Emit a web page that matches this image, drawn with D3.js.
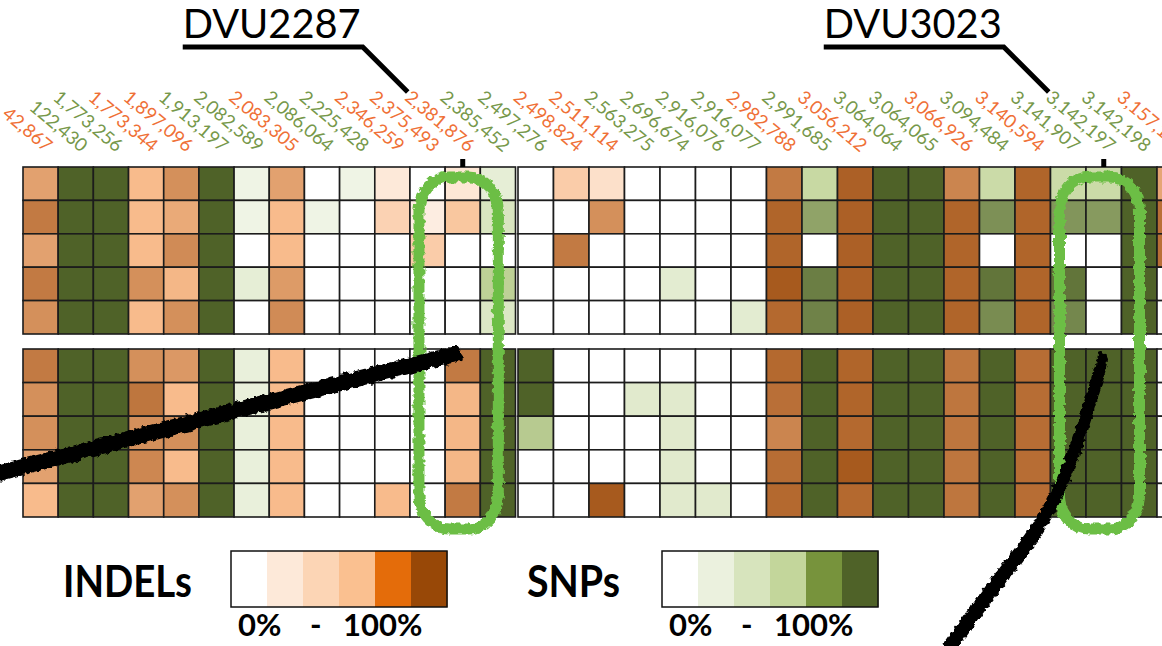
<!DOCTYPE html>
<html>
<head>
<meta charset="utf-8">
<script src="https://cdn.jsdelivr.net/npm/d3@7"></script>
<style>
  body { margin: 0; background: #fff; }
  svg { display: block; }
</style>
</head>
<body>
<svg id="chart" width="1162" height="646"></svg>
<script>
// Genome positions of the variants (column labels)
const positions = ["42,867", "122,430", "1,773,256", "1,773,344", "1,897,096", "1,913,197", "2,082,589",
  "2,083,305", "2,086,064", "2,225,428", "2,346,259", "2,375,493", "2,381,876", "2,385,452",
  "2,497,276", "2,498,824", "2,511,114", "2,563,275", "2,696,674", "2,916,076", "2,916,077",
  "2,982,788", "2,991,685", "3,056,212", "3,064,064", "3,064,065", "3,066,926", "3,094,484",
  "3,140,594", "3,141,907", "3,142,197", "3,142,198", "3,157,154"];

// Variant type of each column: I = INDEL, S = SNP
const types = ["I", "S", "S", "I", "I", "S", "S", "I", "S", "S", "I", "I", "I", "S",
  "S", "I", "I", "S", "S", "S", "S", "I", "S", "I", "S", "S", "I", "S", "I", "S", "S", "S", "I"];

// Number of columns in the first panel
const leftCount = 14;

// Frequency (%) of each variant, upper group of five lines
const topRows = [
  [62, 100, 100, 50, 70, 100, 8, 62, 0, 8, 10, 0, 12, 15, 0, 35, 18, 0, 0, 0, 0, 80, 45, 92, 100, 100, 75, 42, 90, 42, 42, 100, 60],
  [80, 100, 100, 50, 58, 100, 8, 50, 8, 0, 30, 8, 40, 28, 0, 0, 70, 0, 0, 0, 0, 90, 72, 92, 100, 100, 90, 80, 90, 78, 76, 100, 85],
  [62, 100, 100, 50, 72, 100, 0, 50, 0, 0, 0, 35, 0, 0, 0, 80, 0, 0, 0, 0, 0, 90, 0, 92, 100, 100, 90, 0, 90, 0, 0, 100, 85],
  [80, 100, 100, 70, 52, 100, 15, 65, 0, 0, 0, 0, 0, 52, 0, 0, 0, 0, 18, 0, 0, 95, 88, 92, 100, 100, 90, 92, 90, 92, 0, 100, 0],
  [70, 100, 100, 50, 70, 100, 0, 72, 0, 0, 0, 0, 0, 25, 0, 0, 0, 0, 0, 0, 18, 88, 86, 92, 100, 100, 90, 82, 90, 84, 0, 100, 0]
];

// Frequency (%) of each variant, lower group of five lines
const bottomRows = [
  [80, 100, 100, 70, 66, 100, 12, 50, 0, 0, 0, 0, 80, 100, 100, 0, 0, 0, 0, 0, 0, 88, 100, 90, 100, 100, 82, 100, 86, 100, 100, 100, 0],
  [70, 100, 100, 82, 50, 100, 12, 50, 0, 0, 0, 0, 52, 100, 100, 0, 0, 20, 20, 0, 0, 85, 100, 90, 100, 100, 82, 100, 86, 100, 100, 100, 0],
  [70, 100, 100, 70, 70, 100, 12, 50, 0, 0, 0, 0, 52, 100, 55, 0, 0, 0, 20, 0, 0, 75, 100, 88, 100, 100, 82, 100, 86, 100, 100, 100, 0],
  [62, 100, 100, 74, 50, 100, 12, 50, 0, 0, 0, 0, 52, 100, 0, 0, 0, 0, 20, 0, 0, 86, 100, 95, 100, 100, 82, 100, 86, 100, 100, 100, 0],
  [50, 100, 100, 62, 70, 100, 12, 50, 0, 0, 50, 0, 80, 100, 0, 0, 95, 0, 20, 20, 0, 88, 100, 88, 100, 100, 82, 100, 86, 100, 100, 100, 0]
];

// Highlighted genes and the column they point at
const genes = [
  { name: "DVU2287", column: "2,381,876", circled: ["2,375,493", "2,381,876"] },
  { name: "DVU3023", column: "3,142,197", circled: ["3,141,907", "3,142,197"] }
];

// Legend steps
const legendSteps = [0, 1, 2, 3, 4, 5];

const svg = d3.select("#chart");
const font = "Lato, 'Open Sans', sans-serif";

// colour scales, white to brown for INDELs and white to olive for SNPs
const indelColor = d3.scaleLinear().domain([0, 10, 50, 100])
  .range(["#ffffff", "#fde9d9", "#f8bb8c", "#9e4f12"]);
const snpColor = d3.scaleLinear().domain([0, 10, 50, 100])
  .range(["#ffffff", "#ebf1de", "#c3d69b", "#4f6228"]);
const cellColor = (t, v) => t === "I" ? indelColor(v) : snpColor(v);

// two panels of columns
const xLeft = d3.scaleBand().domain(positions.slice(0, leftCount)).range([23, 515.5]);
const xRight = d3.scaleBand().domain(positions.slice(leftCount))
  .range([518, 518 + 35.5 * (positions.length - leftCount)]);
const x = p => positions.indexOf(p) < leftCount ? xLeft(p) : xRight(p);
const bw = p => positions.indexOf(p) < leftCount ? xLeft.bandwidth() : xRight.bandwidth();

const yTop = d3.scaleBand().domain(d3.range(topRows.length)).range([167, 334]);
const yBottom = d3.scaleBand().domain(d3.range(bottomRows.length)).range([349, 517]);

// rough edge filter for the hand drawn marks
const defs = svg.append("defs");
const rough = defs.append("filter").attr("id", "rough")
  .attr("x", "-10%").attr("y", "-10%").attr("width", "120%").attr("height", "120%");
rough.append("feTurbulence").attr("type", "fractalNoise").attr("baseFrequency", 0.2)
  .attr("numOctaves", 2).attr("seed", 3).attr("result", "noise");
rough.append("feDisplacementMap").attr("in", "SourceGraphic").attr("in2", "noise")
  .attr("scale", 6).attr("xChannelSelector", "R").attr("yChannelSelector", "G");

// heatmap cells
function drawBlock(rows, y) {
  const cells = rows.flatMap((row, r) => row.map((v, c) => ({ r, c, v, p: positions[c], t: types[c] })));
  svg.append("g").selectAll("rect")
    .data(cells)
    .join("rect")
    .attr("x", d => x(d.p))
    .attr("y", d => y(d.r))
    .attr("width", d => bw(d.p))
    .attr("height", y.bandwidth())
    .attr("fill", d => cellColor(d.t, d.v))
    .attr("stroke", "#1c1c1c")
    .attr("stroke-width", 1.6);
}
drawBlock(topRows, yTop);
drawBlock(bottomRows, yBottom);

// rotated column labels
svg.append("g").selectAll("text")
  .data(positions)
  .join("text")
  .attr("transform", p => `translate(${x(p) + bw(p) / 2 + 5},153) rotate(40)`)
  .attr("text-anchor", "end")
  .attr("font-family", font)
  .attr("font-size", 18.5)
  .attr("fill", (p, i) => types[i] === "I" ? "#ef7036" : "#76984a")
  .text(p => p);

// gene call-outs
genes.forEach(g => {
  const cx = x(g.column) + bw(g.column) / 2;
  const ann = svg.append("g");
  ann.append("text")
    .attr("x", cx - 280).attr("y", 38)
    .attr("font-family", font).attr("font-size", 40)
    .attr("textLength", 178).attr("lengthAdjust", "spacingAndGlyphs")
    .text(g.name);
  ann.append("path")
    .attr("d", `M${cx - 280},47 L${cx - 100},47 L${cx - 55},92`)
    .attr("fill", "none").attr("stroke", "#000").attr("stroke-width", 5);
  ann.append("rect")
    .attr("x", cx - 2.5).attr("y", 159).attr("width", 5).attr("height", 8).attr("fill", "#000");

  // green loop round the circled columns
  const x0 = x(g.circled[0]), x1 = x(g.circled[1]) + bw(g.circled[1]);
  svg.append("rect")
    .attr("x", x0 + 9).attr("y", 177)
    .attr("width", x1 - x0 + 9).attr("height", 352)
    .attr("rx", 30).attr("ry", 34)
    .attr("fill", "none")
    .attr("stroke", "#6cbe45").attr("stroke-width", 11)
    .attr("filter", "url(#rough)");
});

// black marker strokes drawn over the figure
const strokes = [
  [[0, 473], [150, 434], [300, 393], [457, 354]],
  [[948, 650], [995, 585], [1038, 532], [1066, 478], [1086, 418], [1103, 360]]
];
const line = d3.line().curve(d3.curveBasis);
strokes.forEach(s => {
  [[-4, 8], [0, 10], [4, 7]].forEach(([off, w]) => {
    svg.append("path")
      .attr("d", line(s.map(([px, py]) => [px + off * 0.3, py + off])))
      .attr("fill", "none").attr("stroke", "#000")
      .attr("stroke-width", w).attr("stroke-linecap", "round")
      .attr("filter", "url(#rough)");
  });
});

// legends
const legends = [
  { label: "INDELs", lx: 63, lw: 129, bx: 231, range: ["#ffffff", "#fde9d9", "#fcd5b5", "#fac090", "#e46c0a", "#984807"] },
  { label: "SNPs", lx: 527, lw: 93, bx: 662, range: ["#ffffff", "#ebf1de", "#d7e4bd", "#c3d69b", "#77933c", "#4f6228"] }
];
legends.forEach(l => {
  const g = svg.append("g");
  g.append("text")
    .attr("x", l.lx).attr("y", 597)
    .attr("font-family", font).attr("font-weight", "bold").attr("font-size", 44)
    .attr("textLength", l.lw).attr("lengthAdjust", "spacingAndGlyphs")
    .text(l.label);
  const sx = d3.scaleBand().domain(legendSteps).range([l.bx, l.bx + 216]);
  const col = d3.scaleOrdinal().domain(legendSteps).range(l.range);
  g.selectAll("rect.step")
    .data(legendSteps)
    .join("rect")
    .attr("x", d => sx(d)).attr("y", 551)
    .attr("width", sx.bandwidth() + 0.5).attr("height", 56)
    .attr("fill", d => col(d));
  g.append("rect")
    .attr("x", l.bx).attr("y", 551).attr("width", 216).attr("height", 56)
    .attr("fill", "none").attr("stroke", "#111").attr("stroke-width", 1.5);
  [["0%", 7], ["-", 79], ["100%", 112]].forEach(([t, dx]) => {
    g.append("text")
      .attr("x", l.bx + dx).attr("y", 636)
      .attr("font-family", font).attr("font-weight", "bold").attr("font-size", 31)
      .text(t);
  });
});
</script>
</body>
</html>
